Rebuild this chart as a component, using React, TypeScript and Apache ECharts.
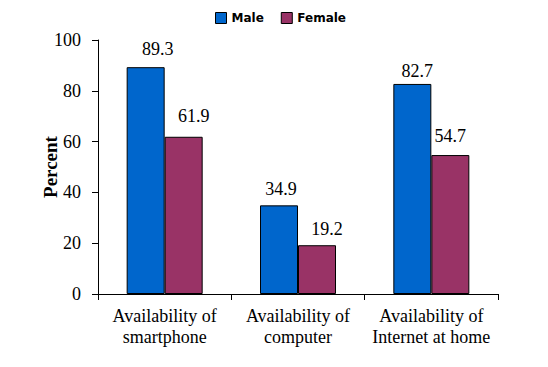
import React, { useEffect, useRef } from "react";
import * as echarts from "echarts";

const categories = ["Availability of\nsmartphone", "Availability of\ncomputer", "Availability of\nInternet at home"];
const maleValues = [89.3, 34.9, 82.7];
const femaleValues = [61.9, 19.2, 54.7];
const yTicks = { min: 0, max: 100, interval: 20 };

// label placement tweaks (hand-placed labels in the original): [dx, distance]
const maleLabelPlacement = [[12, 9], [2, 7], [5, 4]];
const femaleLabelPlacement = [[10, 12], [10, 7], [0, 10]];

const BAR_FRACTION = 0.285; // each bar's share of the category band (43% category gap)

export default function App() {
  const ref = useRef<HTMLDivElement>(null);
  useEffect(() => {
    const chart = echarts.init(ref.current!, null, { renderer: "svg" });
    const serif = "'Liberation Serif', 'Times New Roman', serif";
    const labelData: number[][] = [];
    maleValues.forEach((v, i) => labelData.push([i, v, 0, maleLabelPlacement[i][0], maleLabelPlacement[i][1]]));
    femaleValues.forEach((v, i) => labelData.push([i, v, 1, femaleLabelPlacement[i][0], femaleLabelPlacement[i][1]]));
    chart.setOption({
      animation: false,
      backgroundColor: "#fff",
      legend: {
        top: 7,
        left: 210,
        itemWidth: 11,
        itemHeight: 11,
        itemGap: 17,
        icon: "rect",
        textStyle: { fontFamily: "'DejaVu Sans', Verdana, sans-serif", fontWeight: "bold", fontSize: 12, color: "#000" },
        data: [
          { name: "Male", itemStyle: { borderColor: "#000", borderWidth: 1 } },
          { name: "Female", itemStyle: { borderColor: "#000", borderWidth: 1 } },
        ],
      },
      grid: { left: 98, top: 40, right: 50, bottom: 73, containLabel: false },
      xAxis: {
        type: "category",
        data: categories,
        axisLine: { lineStyle: { color: "#000", width: 1 } },
        axisTick: { show: true, length: 6, lineStyle: { color: "#000" } },
        axisLabel: { fontFamily: serif, fontSize: 18, color: "#000", margin: 11, lineHeight: 21, interval: 0 },
      },
      yAxis: {
        type: "value",
        min: yTicks.min,
        max: yTicks.max,
        interval: yTicks.interval,
        name: "Percent",
        nameLocation: "middle",
        nameGap: 38,
        nameMoveOverlap: false,
        nameRotate: 90,
        nameTextStyle: { fontFamily: serif, fontSize: 19, fontWeight: "bold", color: "#000" },
        axisLine: { show: true, lineStyle: { color: "#000", width: 1 } },
        axisTick: { show: true, length: 6, lineStyle: { color: "#000" } },
        axisLabel: { fontFamily: serif, fontSize: 18, color: "#000", margin: 17 },
        splitLine: { show: false },
      },
      series: [
        {
          name: "Male",
          type: "bar",
          data: maleValues,
          barGap: "0%",
          barCategoryGap: "43%",
          itemStyle: { color: "#0066CC", borderColor: "#000", borderWidth: 1 },
        },
        {
          name: "Female",
          type: "bar",
          data: femaleValues,
          barGap: "0%",
          barCategoryGap: "43%",
          itemStyle: { color: "#993366", borderColor: "#000", borderWidth: 1 },
        },
        {
          name: "labels",
          type: "custom",
          silent: true,
          z: 10,
          data: labelData,
          renderItem: (params: any, api: any) => {
            const ci = api.value(0);
            const v = api.value(1);
            const s = api.value(2);
            const dx = api.value(3);
            const dist = api.value(4);
            const pt = api.coord([ci, v]);
            const band = api.size([1, 0])[0];
            const half = (band * BAR_FRACTION) / 2;
            const x = pt[0] + (s === 0 ? -half : half) + dx;
            return {
              type: "text",
              x,
              y: pt[1] - dist,
              style: {
                text: v.toFixed(1),
                textAlign: "center",
                textVerticalAlign: "bottom",
                fontFamily: serif,
                fontSize: 18,
                fill: "#000",
              },
            };
          },
        },
      ],
    });
    return () => chart.dispose();
  }, []);
  return <div ref={ref} style={{ width: 548, height: 367, position: "absolute", left: 0, top: 0 }} />;
}
